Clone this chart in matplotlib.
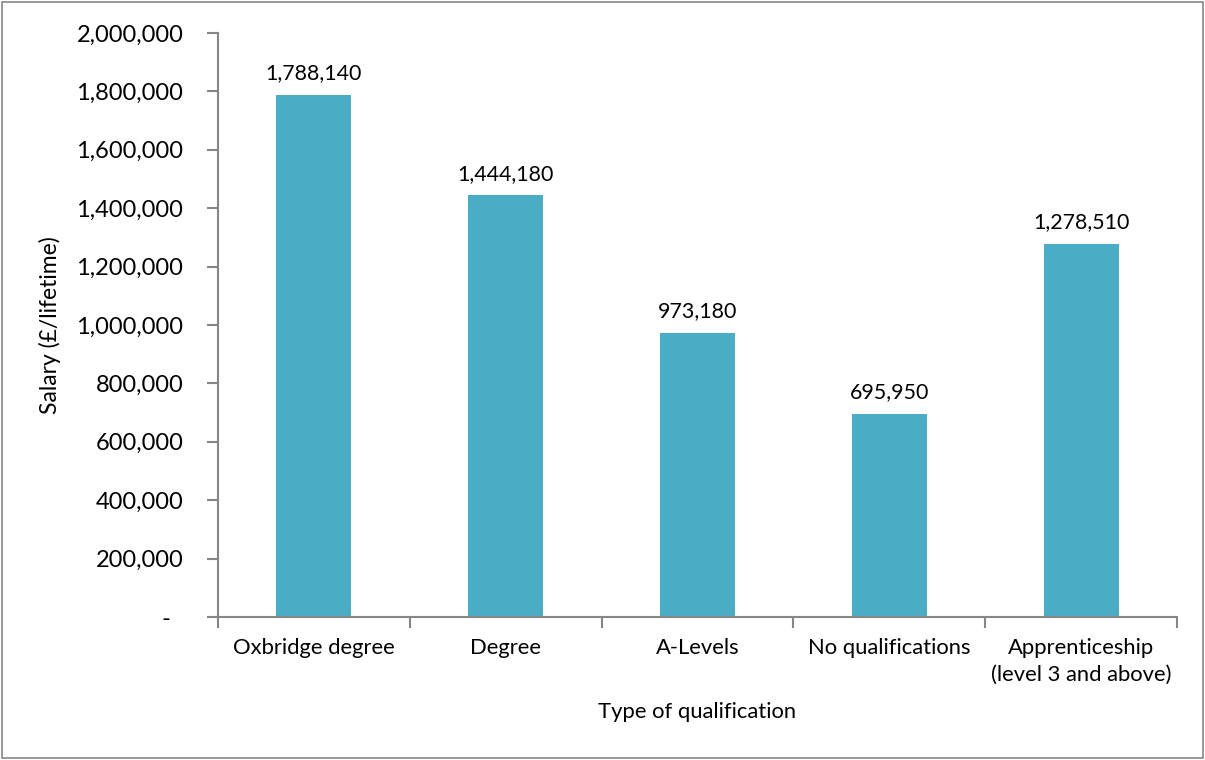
import matplotlib
matplotlib.use("Agg")
import matplotlib.pyplot as plt
from matplotlib.patches import Rectangle
from matplotlib.ticker import FuncFormatter, FixedLocator

categories = ["Oxbridge degree", "Degree", "A-Levels", "No qualifications",
              "Apprenticeship\n(level 3 and above)"]
values = [1788140, 1444180, 973180, 695950, 1278510]
yticks = [0, 200000, 400000, 600000, 800000, 1000000, 1200000, 1400000,
          1600000, 1800000, 2000000]

plt.rcParams['font.family'] = ['Lato', 'DejaVu Sans']
fig = plt.figure(figsize=(12.05, 7.6), dpi=100)
ax = fig.add_axes([218/1205, 1-617/760, (1177-218)/1205, (617-33)/760])

x = list(range(len(categories)))
bar_color = "#4BACC6"
ax.bar(x, values, width=0.39, color=bar_color, zorder=2)
for xi, v in zip(x, values):
    ax.text(xi, v + 40000, f"{v:,}", ha="center", va="bottom", fontsize=15.4, color="black")

ax.set_xlim(-0.5, len(categories) - 0.5)
ax.set_ylim(0, 2000000)
ax.set_yticks(yticks)
ax.yaxis.set_major_formatter(FuncFormatter(lambda v, p: "-  " if v == 0 else f"{int(v):,}"))
ax.set_xticks(x)
ax.set_xticklabels(categories, fontsize=15.8, linespacing=1.45)
ax.xaxis.set_minor_locator(FixedLocator([i - 0.5 for i in range(len(categories) + 1)]))
ax.tick_params(axis='x', which='major', length=0, pad=15)
ax.tick_params(axis='x', which='minor', length=8, color="#868686", width=1.5)
ax.tick_params(axis='y', which='major', length=8, color="#868686", width=1.5, labelsize=17, pad=17)

for s in ["top", "right"]:
    ax.spines[s].set_visible(False)
for s in ["left", "bottom"]:
    ax.spines[s].set_color("#868686")
    ax.spines[s].set_linewidth(1.5)

ax.set_ylabel("Salary (£/lifetime)", fontsize=16.5, labelpad=11)
ax.set_xlabel("Type of qualification", fontsize=15.8, labelpad=12)

fig.patches.append(Rectangle((0.002, 0.003), 0.996, 0.994, transform=fig.transFigure,
                             fill=False, edgecolor="#868686", linewidth=1.2))
fig.savefig("out.png", dpi=100)
